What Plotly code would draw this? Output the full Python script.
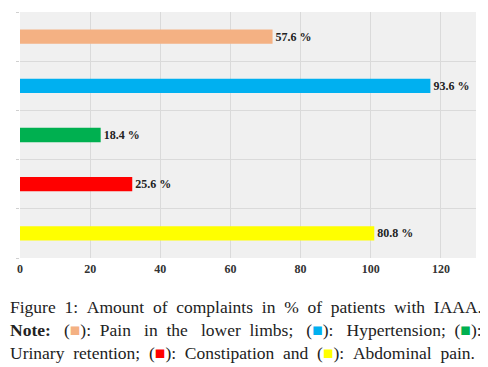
import plotly.graph_objects as go

complaints = ["Pain in the lower limbs", "Hypertension", "Urinary retention", "Constipation", "Abdominal pain"]
patients = [72, 117, 23, 32, 101]
percent_labels = ["57.6 %", "93.6 %", "18.4 %", "25.6 %", "80.8 %"]
colors = ["#F4B183", "#00B0F0", "#00B050", "#FF0000", "#FFFF00"]
x_ticks = [0, 20, 40, 60, 80, 100, 120]

# page body has an 8px default margin; figure is sized to fill the rest of the window
W, H = 480, 359
L, R, T, B = 12, 12, 4, 109

fig = go.Figure()
fig.add_trace(go.Bar(
    y=complaints, x=patients, orientation="h",
    marker=dict(color=colors, line=dict(width=0)),
    width=0.29,
    text=percent_labels, textposition="outside", cliponaxis=False,
    textfont=dict(family="Liberation Serif", size=12, color="#222222"),
    texttemplate="<b>%{text}</b>",
))

fig.update_layout(
    width=W, height=H,
    margin=dict(l=L, r=R, t=T, b=B, autoexpand=False),
    paper_bgcolor="white", plot_bgcolor="#f0f0f0",
    showlegend=False,
    xaxis=dict(range=[0, 130], tickvals=x_ticks, ticktext=["<b>%d</b>" % v for v in x_ticks],
               showgrid=True, gridcolor="#dadada",
               zeroline=False, showline=False, automargin=False,
               tickfont=dict(family="Liberation Serif", size=12, color="#333333"),
               ticklabelstandoff=2),
    yaxis=dict(categoryorder="array", categoryarray=complaints[::-1],
               showticklabels=False, tickson="boundaries", showgrid=True, automargin=False,
               gridcolor="#dadada", ticks="outside", ticklen=3, tickcolor="#d0d0d0",
               showline=False, zeroline=False),
)

cap_font = dict(family="Liberation Serif", size=17.5, color="#222222")
sq = "\u25A0"
s0 = " "
s1 = " \u00A0"
s2 = " \u00A0\u00A0"
def box(c):
    return "<span style='color:%s'>%s</span>" % (c, sq)
lines = [
    "Figure" + s1 + "1:" + s1 + "Amount" + s1 + "of" + s1 + "complaints" + s1 + "in" + s1 + "%" + s1 + "of"
    + s1 + "patients" + s1 + "with" + s1 + "IAAA.",
    "<b>Note:</b>" + s2 + "(" + box(colors[0]) + "):" + s1 + "Pain" + s2 + "in" + s1 + "the" + s2 + "lower"
    + s1 + "limbs;" + s2 + "(" + box(colors[1]) + "):" + s2 + "Hypertension;" + s1 + "(" + box(colors[2]) + "):",
    "Urinary" + s1 + "retention;" + s1 + "(" + box(colors[3]) + "):" + s1 + "Constipation" + s1 + "and" + s1
    + "(" + box(colors[4]) + "):" + s1 + "Abdominal" + s1 + "pain.",
]
pw, ph = W - L - R, H - T - B
for i, t in enumerate(lines):
    fig.add_annotation(text=t, xref="paper", yref="paper", x=-L / pw,
                       y=(H - B - (299 + 23 * i)) / ph,
                       xanchor="left", yanchor="middle", showarrow=False, font=cap_font, align="left")

fig.write_html("out.html")
